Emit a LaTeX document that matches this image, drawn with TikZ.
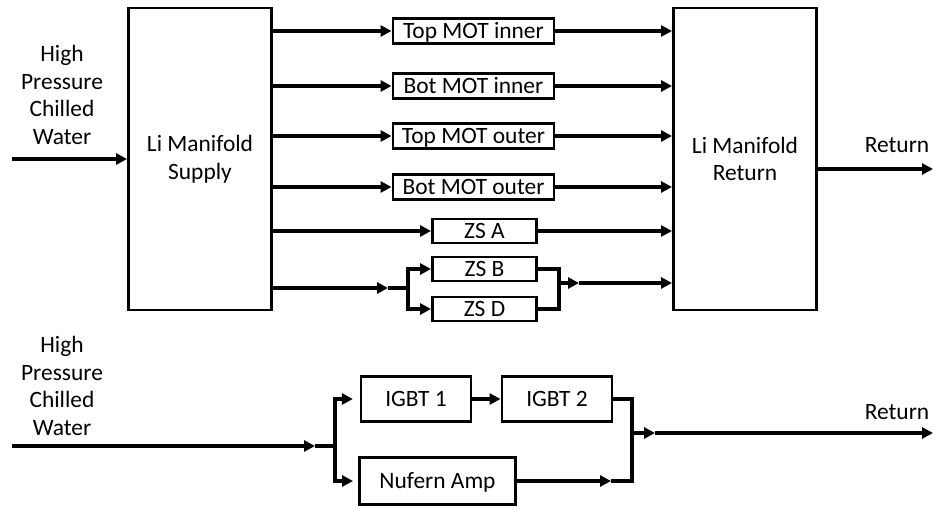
\documentclass[tikz,border=0pt]{standalone}
\usepackage{fontspec}
\setmainfont{Carlito}
\usetikzlibrary{arrows.meta}

\begin{document}
\begin{tikzpicture}[x=0.03cm, y=-0.03cm,
  every node/.style={font=\fontsize{20pt}{23.6pt}\selectfont, inner sep=0pt},
  manifold/.style={rectangle, draw, line width=2.5pt, minimum width=4.29cm, minimum height=9.06cm, align=center},
  oneline/.style={text height=12.9pt, text depth=0pt},
  loopbox/.style={rectangle, draw, oneline, line width=2.5pt, minimum width=4.83cm, minimum height=0.75cm},
  zsbox/.style={rectangle, draw, oneline, line width=2.5pt, minimum width=3.12cm, minimum height=0.72cm},
  ampbox/.style={rectangle, draw, oneline, line width=2.5pt, minimum width=3.3cm, minimum height=1.35cm},
  txt/.style={align=center},
  flow/.style={line width=2.8pt, -{Triangle[length=0.33cm, width=0.33cm]}},
  pipe/.style={line width=2.8pt},
]
\useasboundingbox (0,0) rectangle (933,508);

% manifolds
\node[manifold] (sup) at (200,159) {Li Manifold\\Supply};
\node[manifold] (ret) at (745,159) {Li Manifold\\Return};

% cooling loops
\node[loopbox] (tmi) at (473.5,31) {Top MOT inner};
\node[loopbox] (bmi) at (473.5,86) {Bot MOT inner};
\node[loopbox] (tmo) at (473.5,136) {Top MOT outer};
\node[loopbox] (bmo) at (473.5,187) {Bot MOT outer};
\node[zsbox] (zsa) at (484.5,231) {ZS A};
\node[zsbox] (zsb) at (484.5,269) {ZS B};
\node[zsbox] (zsd) at (484.5,309) {ZS D};

\node[txt] (hpw1) at (62,95) {High\\Pressure\\Chilled\\Water};
\node[oneline] (rt1) at (897,145) {Return};

\coordinate (in1) at (12,159);
\coordinate (out1) at (933,169);
\coordinate (zsin) at (388,288);
\coordinate (zsj) at (408,288);
\coordinate (zsm) at (559,283);
\coordinate (zsout) at (579,283);

\draw[flow] (in1) -- (sup.west);
\foreach \b in {tmi,bmi,tmo,bmo,zsa}{
  \draw[flow] (sup.east |- \b) -- (\b.west);
  \draw[flow] (\b.east) -- (ret.west |- \b);
}
\draw[flow] (sup.east |- zsin) -- (zsin);
\draw[pipe] (zsin) -- (zsj);
\draw[flow] (zsj) |- (zsb.west);
\draw[flow] (zsj) |- (zsd.west);
\draw[pipe] (zsb.east) -| (zsm) |- (zsd.east);
\draw[flow] (zsm) -- (zsout);
\draw[flow] (zsout) -- (ret.west |- zsout);
\draw[flow] (ret.east |- out1) -- (out1);

% second circuit
\node[ampbox] (igbt1) at (416,399) {IGBT 1};
\node[ampbox] (igbt2) at (557,399) {IGBT 2};
\node[ampbox, minimum width=4.68cm, minimum height=1.41cm] (amp) at (437.5,481) {Nufern Amp};

\node[txt] (hpw2) at (62,386) {High\\Pressure\\Chilled\\Water};
\node[oneline] (rt2) at (897,412) {Return};

\coordinate (in2) at (12,446);
\coordinate (bin) at (315,446);
\coordinate (bj) at (335,446);
\coordinate (ampout) at (611,481);
\coordinate (bm) at (632,433);
\coordinate (bout) at (655,433);
\coordinate (out2) at (933,433);

\draw[flow] (in2) -- (bin);
\draw[pipe] (bin) -- (bj);
\draw[flow, shorten >=0.2cm] (bj) |- (igbt1.west);
\draw[flow, shorten >=0.15cm] (bj) |- (amp.west);
\draw[flow] (igbt1) -- (igbt2);
\draw[flow] (amp.east) -- (ampout);
\draw[pipe] (igbt2.east) -| (bm) |- (ampout);
\draw[flow] (bm) -- (bout);
\draw[flow] (bout) -- (out2);
\end{tikzpicture}
\end{document}
